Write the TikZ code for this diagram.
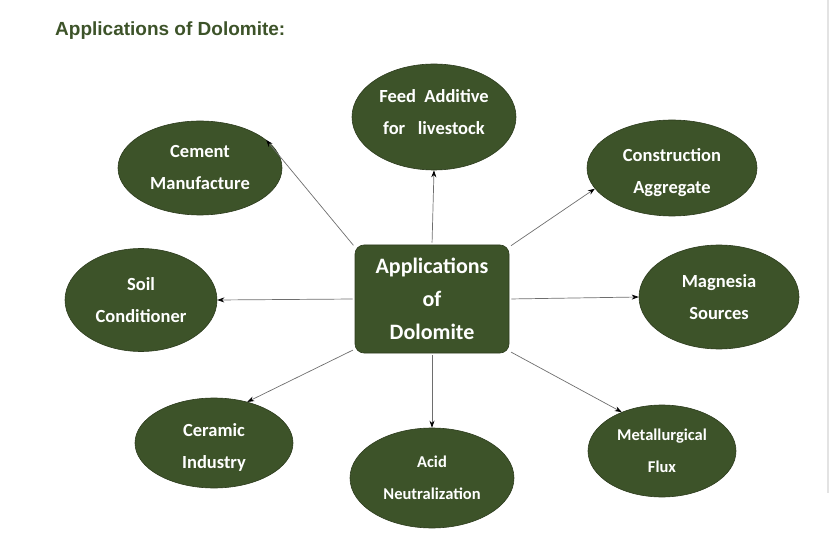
\documentclass[tikz,border=0pt]{standalone}
\usepackage{fontspec}
\setmainfont{Carlito}
\newfontfamily\titlefont{Liberation Sans}
\usepackage{tikz}
\usetikzlibrary{arrows.meta,positioning,shapes.geometric}
\definecolor{dolgreen}{HTML}{3D5329}
\definecolor{doledge}{HTML}{2C3B1D}
\definecolor{dolarrow}{HTML}{6E6E6E}

\begin{document}
\begin{tikzpicture}[x=1pt,y=-1pt,
    appell/.style={ellipse, fill=dolgreen, draw=doledge, line width=0.6pt,
        inner sep=0pt, text=white, align=center},
    bigtxt/.style={font=\bfseries\fontsize{18.5}{32}\selectfont},
    smalltxt/.style={font=\bfseries\fontsize{16.5}{32}\selectfont},
    link/.style={draw=dolarrow, line width=0.7pt, shorten <=2pt,
        -{Stealth[length=7pt,width=5pt,black]}}]

    \useasboundingbox (0,0) rectangle (830,553);

    % 1. Heading and page edge
    \node[anchor=west, inner sep=0pt, text=dolgreen,
          font=\titlefont\bfseries\fontsize{19}{22}\selectfont] (title) at (55,31) {Applications of Dolomite:};
    \draw[gray!22, line width=2pt] (828,0) -- (828,493);

    % 2. Central box
    \node[rectangle, rounded corners=9pt, fill=dolgreen, draw=doledge, line width=0.6pt,
          minimum width=154pt, minimum height=108pt, text=white, align=center,
          font=\bfseries\fontsize{22}{33}\selectfont] (box) at (432,299) {Applications\\of\\Dolomite};

    % 3. Applications around it
    \node[appell, bigtxt, text depth=10pt, minimum width=164pt, minimum height=106pt] (feed) at (434,117) {Feed~~Additive\\for~~~livestock};
    \node[appell, bigtxt, minimum width=164pt, minimum height=94pt] (cement) at (200,168) {Cement\\Manufacture};
    \node[appell, bigtxt, text height=54pt, minimum width=170pt, minimum height=96pt] (constr) at (672,168) {Construction\\Aggregate};
    \node[appell, bigtxt, minimum width=152pt, minimum height=103pt] (soil) at (141,300) {Soil\\Conditioner};
    \node[appell, bigtxt, minimum width=160pt, minimum height=104pt] (magn) at (719,297) {Magnesia\\Sources};
    \node[appell, bigtxt, text height=54pt, minimum width=158pt, minimum height=90pt] (ceramic) at (214,443) {Ceramic\\Industry};
    \node[appell, smalltxt, minimum width=164pt, minimum height=100pt] (acid) at (432,478) {Acid\\Neutralization};
    \node[appell, smalltxt, minimum width=148pt, minimum height=92pt] (metal) at (662,451) {Metallurgical\\Flux};

    % 4. Arrows out of the box
    \foreach \from/\to in {box.north/feed.south, box.146/cement.23, box.34/constr.195,
                           box.west/soil.east, box.east/magn.west, box.213/ceramic.51,
                           box.south/acid.north, box.326/metal.136} {
        \draw[link] (\from) -- (\to);
    }

\end{tikzpicture}
\end{document}
